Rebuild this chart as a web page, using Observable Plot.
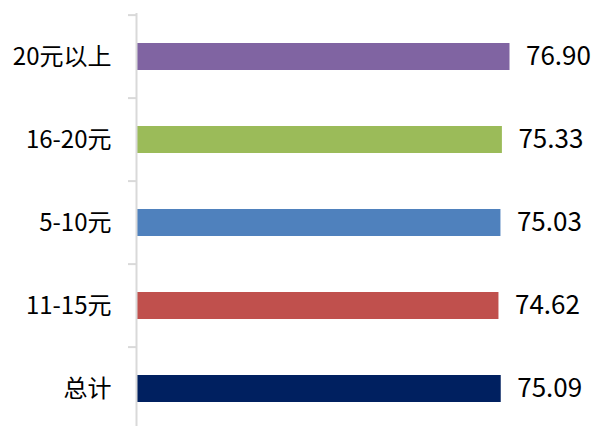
<!DOCTYPE html>
<html>
<head>
<meta charset="utf-8">
<script src="https://cdn.jsdelivr.net/npm/d3@7"></script>
<script src="https://cdn.jsdelivr.net/npm/@observablehq/plot@0.6"></script>
<style>
  html, body { margin: 0; padding: 0; background: #fff; }
</style>
</head>
<body>
<div id="chart"></div>
<script>
const categories = ["20元以上", "16-20元", "5-10元", "11-15元", "总计"];
const values = [76.90, 75.33, 75.03, 74.62, 75.09];
const colors = ["#8064A2", "#9BBB59", "#4F81BD", "#C0504D", "#002060"];

const data = categories.map((c, i) => ({category: c, value: values[i], color: colors[i]}));

const W = 597, H = 426;
const plotTop = 13, band = 83.75;
const font = "'Noto Sans CJK SC', 'Noto Sans', sans-serif";

const chart = Plot.plot({
  width: W,
  height: H,
  marginLeft: 137,
  marginRight: 87.5,
  marginTop: plotTop,
  marginBottom: 0,
  style: {fontFamily: font, background: "#fff", color: "#000"},
  x: {domain: [0, d3.max(values)], axis: null},
  y: {domain: categories, range: [plotTop, plotTop + band * categories.length], paddingInner: 0.68, paddingOuter: 0.34, align: 0.5, label: null},
  marks: [
    Plot.barX(data, {y: "category", x: "value", fill: "color"}),
    Plot.ruleX([0], {stroke: "#d9d9d9", strokeWidth: 2, dx: -1}),
    Plot.axisY({tickSize: 8, text: null, label: null, stroke: "#d9d9d9", strokeWidth: 2, dx: -1, dy: -band / 2}),
    Plot.axisY({tickSize: 0, tickPadding: 26, label: null, fontSize: 24, fill: "#000", fontFamily: font}),
    Plot.text(data, {y: "category", x: "value", text: d => d.value.toFixed(2), textAnchor: "start", dx: 16, fontSize: 26, fill: "#000", fontFamily: font})
  ]
});

document.getElementById("chart").appendChild(chart);
</script>
</body>
</html>
